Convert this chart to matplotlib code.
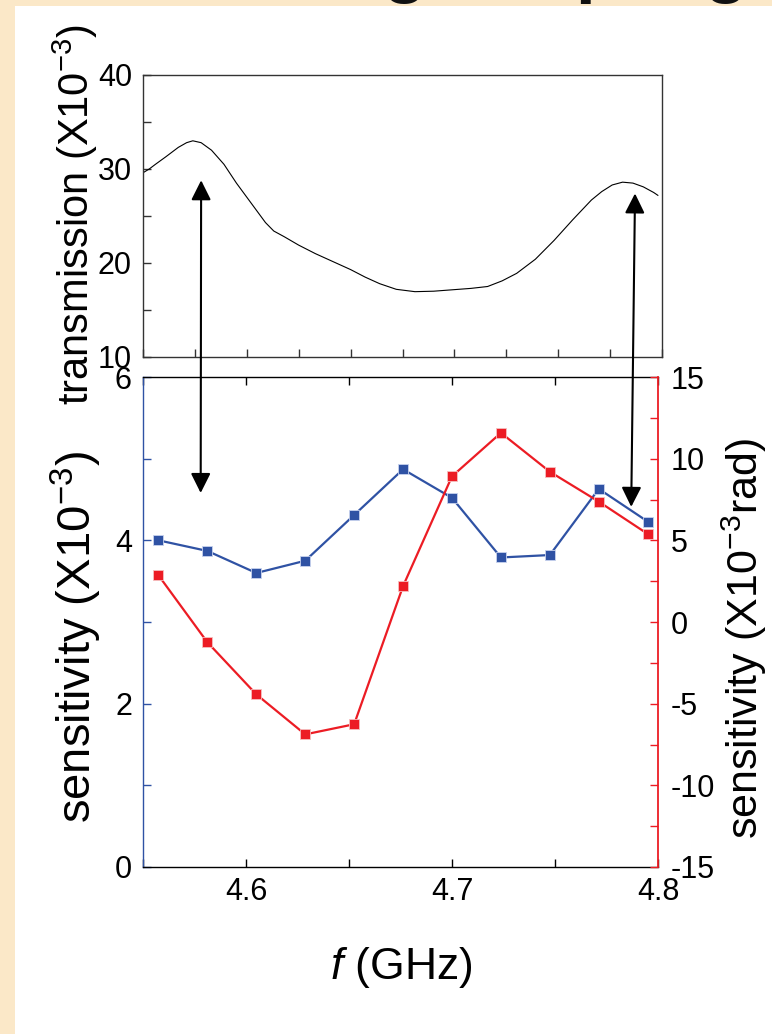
import numpy as np
import matplotlib.pyplot as plt
from matplotlib.patches import Rectangle, ConnectionPatch
from matplotlib.ticker import MultipleLocator

plt.rcParams['font.family'] = ['Liberation Sans', 'DejaVu Sans']
plt.rcParams['mathtext.fontset'] = 'custom'
plt.rcParams['mathtext.rm'] = 'Liberation Sans'
plt.rcParams['mathtext.it'] = 'Liberation Sans:italic'
plt.rcParams['axes.unicode_minus'] = False

# transmission spectrum (top panel)
trans_f = [4.550, 4.553, 4.556, 4.561, 4.567, 4.571, 4.574, 4.578, 4.583,
           4.589, 4.595, 4.602, 4.609, 4.613, 4.618, 4.625, 4.633, 4.641,
           4.650, 4.657, 4.664, 4.672, 4.681, 4.690, 4.699, 4.708, 4.716,
           4.723, 4.730, 4.739, 4.748, 4.757, 4.766, 4.771, 4.776, 4.781,
           4.786, 4.791, 4.796, 4.798]
trans_val = [29.6, 30.0, 30.5, 31.3, 32.3, 32.8, 33.0, 32.8, 32.0,
             30.5, 28.5, 26.4, 24.3, 23.4, 22.8, 21.9, 21.0, 20.2,
             19.3, 18.5, 17.8, 17.2, 16.95, 17.0, 17.15, 17.3, 17.5,
             18.1, 18.9, 20.4, 22.4, 24.6, 26.7, 27.6, 28.3, 28.6,
             28.5, 28.1, 27.5, 27.2]

# sensitivity (bottom panel)
freq = [4.5575, 4.58125, 4.605, 4.62875, 4.6525, 4.67625,
        4.700, 4.72375, 4.7475, 4.77125, 4.795]
sens_amp = [4.00, 3.87, 3.60, 3.75, 4.31, 4.87, 4.52, 3.79, 3.82, 4.63, 4.23]
sens_phase = [2.86, -1.24, -4.43, -6.88, -6.26, 2.2, 8.92, 11.58, 9.2, 7.37, 5.39]

# arrows: (f, top tip in transmission units, bottom tip in sensitivity units)
arrow_f = [4.578, 4.787]
arrow_top = [28.8, 27.4]
arrow_bot = [4.58, 4.41]

blue = '#2F52A4'
red = '#EC1C24'
W, H = 772, 1034

fig = plt.figure(figsize=(W / 100, H / 100), dpi=100, facecolor='#FBE8C8')
fig.add_artist(Rectangle((15 / W, 0), 1, 1 - 6 / H, transform=fig.transFigure,
                         facecolor='white', edgecolor='none', zorder=-2))
# title of the slide, only its descenders show above the white panel
title = fig.text(194 / W, 1 + 11 / H, 'Strong coupling', fontsize=52,
                 fontweight='bold', ha='left', va='baseline', color='#111111')
title.set_clip_path(Rectangle((0, 1 - 6 / H), 1, 6 / H,
                              transform=fig.transFigure))

# top panel
ax_t = fig.add_axes([143 / W, 1 - 357 / H, 519 / W, 282 / H])
ax_t.plot(trans_f, trans_val, color='k', lw=0.8)
ax_t.set_xlim(4.55, 4.80)
ax_t.set_ylim(10, 40)
ax_t.xaxis.set_major_locator(MultipleLocator(0.025))
ax_t.yaxis.set_major_locator(MultipleLocator(10))
ax_t.yaxis.set_minor_locator(MultipleLocator(5))
ax_t.tick_params(axis='x', which='both', direction='in', length=6, width=1,
                 labelbottom=False, color='#333333')
ax_t.tick_params(axis='y', which='both', direction='in', length=6, width=1,
                 labelsize=22, pad=8, color='#333333')
for s in ax_t.spines.values():
    s.set_color('#333333')
    s.set_linewidth(1.0)

# bottom panel
ax_b = fig.add_axes([143 / W, 1 - 867 / H, 515 / W, 490 / H])
ax_r = ax_b.twinx()
ax_b.plot(freq, sens_amp, color=blue, lw=1.6, marker='s', ms=7.5,
          mec='#c8d2ee', mew=0.6)
ax_r.plot(freq, sens_phase, color=red, lw=1.6, marker='s', ms=7.5,
          mec='#f6c0c0', mew=0.6)
ax_b.set_xlim(4.55, 4.80)
ax_b.set_ylim(0, 6)
ax_r.set_ylim(-15, 15)
ax_b.xaxis.set_minor_locator(MultipleLocator(0.05))
ax_b.set_xticks([4.6, 4.7, 4.8])
ax_b.set_xticklabels(['4.6', '4.7', '4.8'])
ax_b.yaxis.set_major_locator(MultipleLocator(2))
ax_b.yaxis.set_minor_locator(MultipleLocator(1))
ax_r.yaxis.set_major_locator(MultipleLocator(5))
ax_r.yaxis.set_minor_locator(MultipleLocator(2.5))
ax_b.tick_params(axis='x', which='both', direction='in', length=6, width=1,
                 top=True, labelsize=22, pad=7)
ax_b.tick_params(axis='y', which='both', direction='in', length=6, width=1,
                 color=blue, labelsize=22, pad=8)
ax_r.tick_params(axis='y', which='both', direction='in', length=6, width=1,
                 color=red, labelsize=22, pad=9)
ax_b.spines['left'].set_color(blue)
ax_b.spines['right'].set_visible(False)
ax_r.spines['right'].set_color(red)
ax_r.spines['left'].set_visible(False)
ax_r.spines['top'].set_visible(False)
ax_r.spines['bottom'].set_visible(False)
for s in ax_b.spines.values():
    s.set_linewidth(1.0)
ax_r.spines['right'].set_linewidth(1.3)

# double-headed arrows linking the two panels
for fx, yt, yb in zip(arrow_f, arrow_top, arrow_bot):
    con = ConnectionPatch(xyA=(fx, yt), coordsA=ax_t.transData,
                          xyB=(fx, yb), coordsB=ax_b.transData,
                          arrowstyle='<|-|>,head_length=1.2,head_width=0.6',
                          mutation_scale=10, lw=1.5, color='k')
    fig.add_artist(con)

# axis labels
fig.text(75 / W, 1 - 214 / H, 'transmission (X10$^{-3}$)', rotation=90,
         fontsize=30, ha='center', va='center')
fig.text(76 / W, 1 - 637 / H, 'sensitivity (X10$^{-3}$)', rotation=90,
         fontsize=34, ha='center', va='center')
fig.text(744 / W, 1 - 639 / H, 'sensitivity (X10$^{-3}$rad)', rotation=90,
         fontsize=31, ha='center', va='center')
fig.text(401 / W, 1 - 968 / H, '$f$ (GHz)', fontsize=32,
         ha='center', va='center')

fig.savefig('out.png', dpi=100, facecolor=fig.get_facecolor())
